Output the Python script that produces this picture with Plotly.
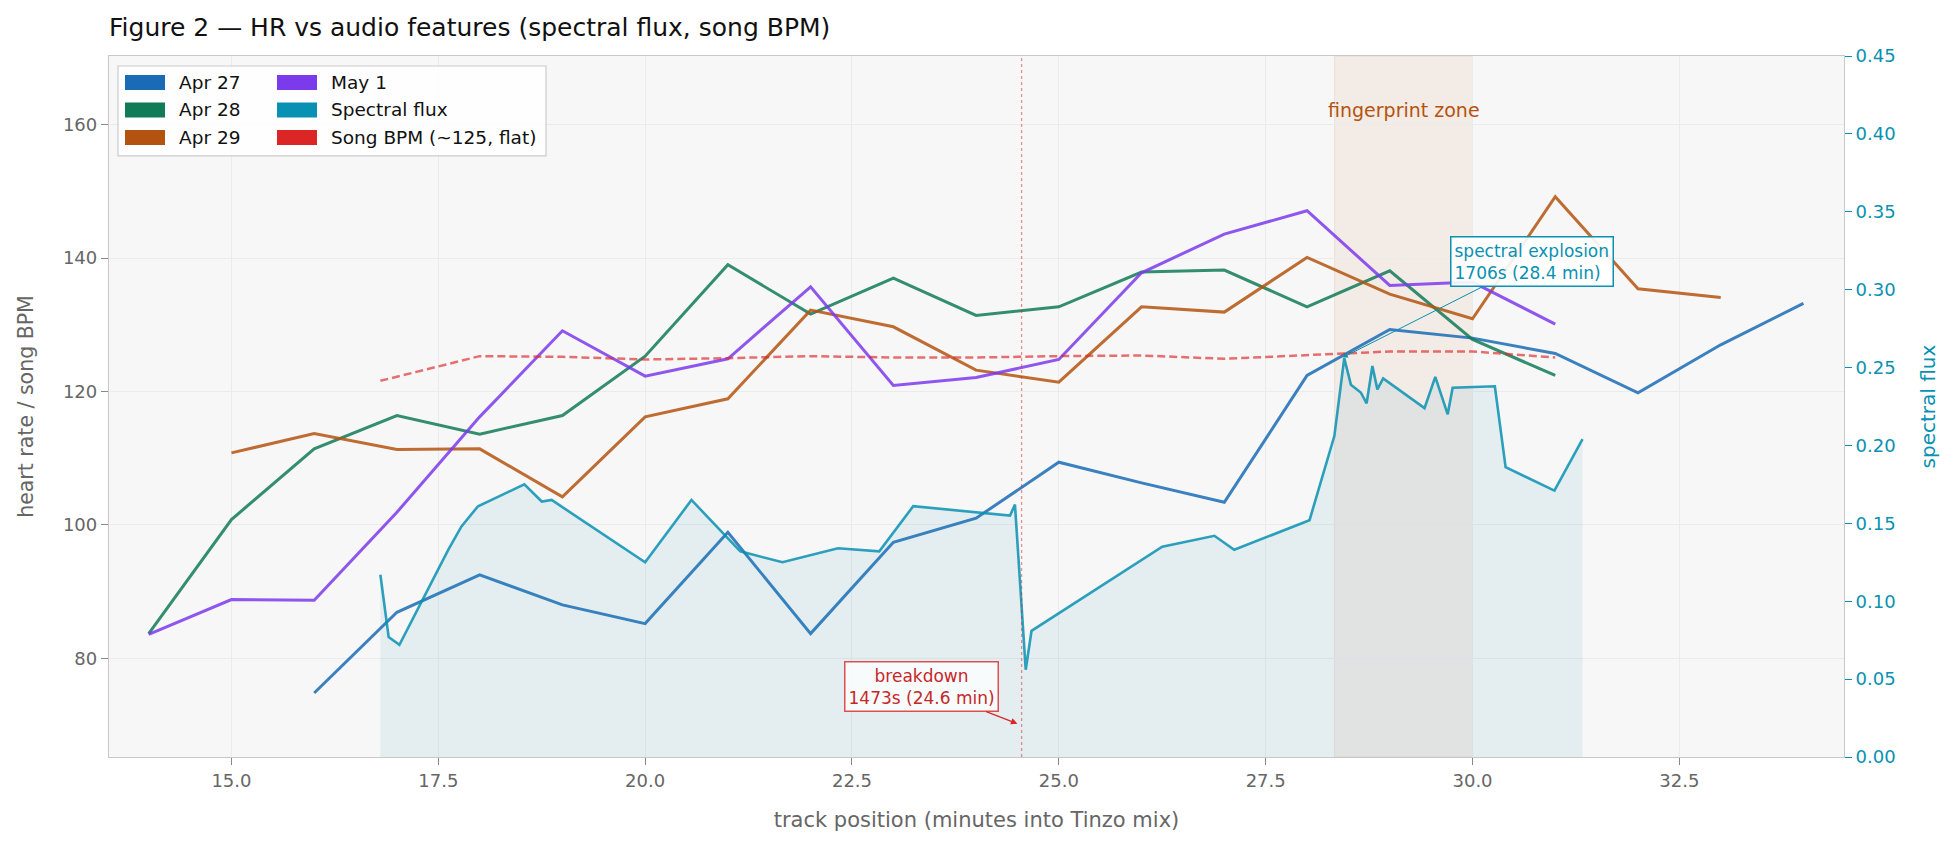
import plotly.graph_objects as go

# minutes into the mix for each listening session
apr27_min = list(range(16, 35))
apr27_hr = [74.8, 86.9, 92.5, 88.0, 85.2, 98.9, 83.7, 97.4, 101.0, 109.4,
            106.3, 103.4, 122.4, 129.3, 128.0, 125.7, 119.8, 127.0, 133.2]

apr28_min = list(range(14, 32))
apr28_hr = [83.7, 100.8, 111.4, 116.4, 113.6, 116.4, 125.3, 139.0, 131.6,
            137.0, 131.4, 132.7, 137.9, 138.2, 132.7, 138.1, 127.8, 122.4]

apr29_min = list(range(15, 34))
apr29_hr = [110.8, 113.7, 111.3, 111.4, 104.2, 116.2, 118.9, 132.2, 129.7,
            123.2, 121.4, 132.7, 131.9, 140.1, 134.6, 130.9, 149.2, 135.4, 134.1]

may1_min = list(range(14, 32))
may1_hr = [83.6, 88.8, 88.7, 101.9, 116.2, 129.1, 122.3, 124.9, 135.7,
           120.9, 122.1, 124.8, 137.8, 143.6, 147.1, 135.9, 136.4, 130.1]

bpm_min = [16.8, 18, 19, 20, 21, 22, 23, 24, 25, 26, 27, 28, 29, 30, 31]
bpm_val = [121.6, 125.3, 125.2, 124.8, 125.0, 125.3, 125.1, 125.1, 125.3,
           125.4, 124.9, 125.4, 126.0, 126.0, 125.1]

flux_min = [16.8, 16.9, 17.03, 17.62, 17.78, 17.98, 18.54, 18.75, 18.87, 20.0,
            20.56, 21.15, 21.66, 22.33, 22.83, 23.24, 24.41, 24.47, 24.60, 24.67,
            26.25, 26.88, 27.12, 28.03, 28.33, 28.45, 28.53, 28.65, 28.72, 28.79,
            28.85, 28.92, 29.42, 29.55, 29.70, 29.76, 30.27, 30.40, 30.99, 31.33]
flux_val = [0.117, 0.077, 0.072, 0.133, 0.148, 0.161, 0.175, 0.164, 0.165, 0.125,
            0.165, 0.132, 0.125, 0.134, 0.132, 0.161, 0.155, 0.162, 0.056, 0.081,
            0.135, 0.142, 0.133, 0.152, 0.206, 0.256, 0.239, 0.234, 0.227, 0.251,
            0.236, 0.243, 0.224, 0.244, 0.220, 0.237, 0.238, 0.186, 0.171, 0.204]

breakdown_s = 1473
explosion_s = 1706
zone_s = [1700, 1800]

colors = {"Apr 27": "#1a6bb5", "Apr 28": "#117a57", "Apr 29": "#b4530f",
          "May 1": "#7c3aed", "Spectral flux": "#0891b2",
          "Song BPM (~125, flat)": "#dc2626"}
legend_cols = [["Apr 27", "Apr 28", "Apr 29"],
               ["May 1", "Spectral flux", "Song BPM (~125, flat)"]]

font = "DejaVu Sans"
# page body has an 8px margin, so the figure is a bit smaller than the window
OFF = 8
W, H = 1960 - OFF, 846 - OFF
# plot area in window pixels
PL, PR, PT, PB = 109, 1844, 56, 757.5
L, R, T, B = PL - OFF, W - (PR - OFF), PT - OFF, H - (PB - OFF)


def rgba(hexcol, a):
    h = hexcol.lstrip("#")
    return "rgba(%d,%d,%d,%s)" % (int(h[0:2], 16), int(h[2:4], 16), int(h[4:6], 16), a)


def px(xpix):
    return (xpix - PL) / (PR - PL)


def py(ypix):
    return (PB - ypix) / (PB - PT)


fig = go.Figure()

for name, xs, ys in [("Apr 27", apr27_min, apr27_hr), ("Apr 28", apr28_min, apr28_hr),
                     ("Apr 29", apr29_min, apr29_hr), ("May 1", may1_min, may1_hr)]:
    fig.add_trace(go.Scatter(x=xs, y=ys, mode="lines", name=name,
                             line=dict(color=rgba(colors[name], 0.85), width=3.0)))

fig.add_trace(go.Scatter(x=bpm_min, y=bpm_val, mode="lines", name="Song BPM (~125, flat)",
                         line=dict(color=rgba(colors["Song BPM (~125, flat)"], 0.65),
                                   width=2.5, dash="8px,4px")))

fig.add_trace(go.Scatter(x=flux_min, y=flux_val, yaxis="y2", mode="lines",
                         name="Spectral flux", fill="tozeroy",
                         fillcolor=rgba(colors["Spectral flux"], 0.08),
                         line=dict(color=rgba(colors["Spectral flux"], 0.85), width=2.6)))

bd_min = breakdown_s / 60
ex_min = explosion_s / 60

shapes = [
    dict(type="rect", xref="x", yref="paper", x0=zone_s[0] / 60, x1=zone_s[1] / 60,
         y0=0, y1=1, fillcolor=rgba("#b4530f", 0.07),
         line=dict(color=rgba("#b4530f", 0.1), width=1), layer="below"),
    dict(type="line", xref="x", yref="paper", x0=bd_min, x1=bd_min, y0=0, y1=1,
         line=dict(color=rgba("#dc2626", 0.5), width=1.3, dash="dot")),
    # legend frame
    dict(type="rect", xref="paper", yref="paper", x0=px(118), x1=px(546),
         y0=py(156), y1=py(66), fillcolor="rgba(255,255,255,0.85)",
         line=dict(color="#cccccc", width=1.2), layer="above"),
]

annotations = [
    dict(text="fingerprint zone", x=(zone_s[0] + zone_s[1]) / 120, xref="x",
         y=py(110), yref="paper", yanchor="middle", showarrow=False,
         font=dict(size=19, color="#b4530f")),
    dict(text="breakdown<br>1473s (24.6 min)", x=bd_min - 0.05, y=70.2,
         xref="x", yref="y", ax=23.34, ay=75.7, axref="x", ayref="y",
         showarrow=True, arrowhead=2, arrowsize=1, arrowwidth=1.3,
         arrowcolor="#dc2626", font=dict(size=17, color="#c62828"),
         bgcolor="rgba(255,255,255,0.75)", bordercolor=rgba("#dc2626", 0.8),
         borderwidth=1.5, borderpad=3, align="center"),
    dict(text="spectral explosion<br>1706s (28.4 min)", x=ex_min, y=0.2565,
         xref="x", yref="y2", ax=30.72, ay=0.318, axref="x", ayref="y2",
         showarrow=True, arrowhead=2, arrowsize=1, arrowwidth=1,
         arrowcolor=colors["Spectral flux"],
         font=dict(size=17, color=colors["Spectral flux"]),
         bgcolor="rgba(255,255,255,0.9)", bordercolor=colors["Spectral flux"],
         borderwidth=1.5, borderpad=3, align="left"),
]

# legend drawn by hand: two columns of wide colour patches
patch_x = [125, 277]
row_y = [82.5, 110, 137.5]
for c, col in enumerate(legend_cols):
    for r, name in enumerate(col):
        shapes.append(dict(type="rect", xref="paper", yref="paper",
                           x0=px(patch_x[c]), x1=px(patch_x[c] + 40),
                           y0=py(row_y[r] + 7.5), y1=py(row_y[r] - 7.5),
                           fillcolor=colors[name], line=dict(width=0), layer="above"))
        annotations.append(dict(text=name, xref="paper", yref="paper",
                                x=px(patch_x[c] + 52), y=py(row_y[r]),
                                xanchor="left", yanchor="middle", showarrow=False,
                                font=dict(size=18.5, color="#111")))

fig.update_layout(
    width=W, height=H,
    margin=dict(l=L, r=R, t=T, b=B),
    paper_bgcolor="white", plot_bgcolor="#f7f7f7",
    font=dict(family=font, size=18, color="#666"),
    showlegend=False,
    title=dict(text="Figure 2 \u2014 HR vs audio features (spectral flux, song BPM)",
               x=L / W, xanchor="left", y=1 - (27.5 - OFF) / H, yanchor="middle",
               font=dict(family=font, size=25, color="#111")),
    xaxis=dict(range=[13.52, 34.49], tick0=15, dtick=2.5, tickformat=".1f",
               showgrid=True, gridcolor="#ebebeb", zeroline=False,
               showline=True, linecolor="#c8c8c8", linewidth=1.3, mirror=True,
               ticks="outside", ticklen=7, tickcolor="#888",
               tickfont=dict(size=18, color="#666"),
               title=dict(text="track position (minutes into Tinzo mix)",
                          font=dict(size=21, color="#666"), standoff=22)),
    yaxis=dict(range=[65.2, 170.3], tickvals=[80, 100, 120, 140, 160],
               showgrid=True, gridcolor="#ebebeb", zeroline=False,
               showline=True, linecolor="#c8c8c8", linewidth=1.3, mirror=True,
               ticks="outside", ticklen=7, tickcolor="#888",
               tickfont=dict(size=18, color="#666"),
               title=dict(text="heart rate / song BPM",
                          font=dict(size=20.5, color="#666"), standoff=23)),
    yaxis2=dict(range=[0, 0.45], dtick=0.05, tickformat=".2f", overlaying="y",
                side="right", showgrid=False, zeroline=False,
                ticks="outside", ticklen=7, tickcolor=colors["Spectral flux"],
                tickfont=dict(size=18, color=colors["Spectral flux"]),
                title=dict(text="spectral flux",
                           font=dict(size=20, color=colors["Spectral flux"]), standoff=26)),
    shapes=shapes,
    annotations=annotations,
)

fig.write_html("out.html")
